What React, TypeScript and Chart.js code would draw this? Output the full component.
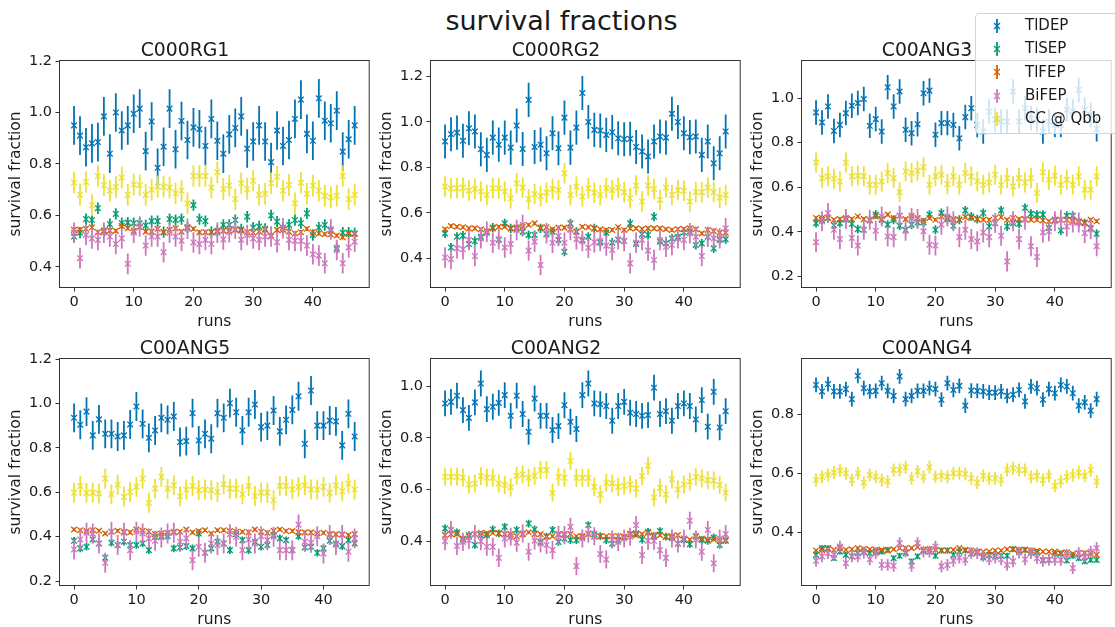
import React, { useEffect, useRef } from "react";
import { Chart, registerables } from "chart.js";
Chart.register(...registerables);

// ---------- data ----------
const SERIES = ["TlDEP", "TlSEP", "TlFEP", "BiFEP", "CC @ Qbb"];
const X_TICKS = [0, 10, 20, 30, 40];

// C000RG1
const rg1_TlDEP = [0.95,0.91,0.865,0.88,0.885,0.985,0.84,1.0,0.93,0.95,0.995,1.015,0.85,0.965,0.785,0.867,1.015,0.857,0.967,0.893,0.942,0.935,0.87,0.975,0.89,0.84,0.915,0.94,0.985,0.86,0.887,0.95,0.887,0.807,0.93,0.87,0.893,0.975,1.05,0.917,0.89,1.055,0.968,0.958,1.007,0.848,0.896,0.95];
const rg1_TlSEP = [0.518,0.533,0.586,0.582,0.628,0.54,0.566,0.606,0.57,0.572,0.57,0.57,0.561,0.578,0.578,0.535,0.586,0.582,0.586,0.553,0.64,0.586,0.578,0.535,0.54,0.563,0.563,0.582,0.546,0.595,0.553,0.557,0.548,0.6,0.576,0.553,0.563,0.582,0.57,0.608,0.524,0.553,0.563,0.541,0.473,0.533,0.533,0.53];
const rg1_TlFEP = [0.544,0.544,0.548,0.554,0.535,0.541,0.541,0.54,0.559,0.55,0.54,0.554,0.537,0.537,0.548,0.535,0.544,0.55,0.537,0.554,0.548,0.535,0.535,0.535,0.537,0.541,0.541,0.544,0.541,0.535,0.533,0.537,0.544,0.522,0.544,0.544,0.537,0.53,0.535,0.548,0.535,0.53,0.527,0.527,0.522,0.515,0.528,0.528];
const rg1_BiFEP = [0.533,0.434,0.524,0.511,0.505,0.533,0.518,0.489,0.511,0.412,0.533,0.557,0.483,0.518,0.518,0.457,0.533,0.518,0.502,0.548,0.495,0.489,0.505,0.489,0.533,0.507,0.535,0.548,0.505,0.524,0.511,0.505,0.518,0.518,0.496,0.55,0.505,0.501,0.501,0.483,0.449,0.444,0.414,0.546,0.466,0.414,0.476,0.498];
const rg1_CC = [0.727,0.68,0.73,0.64,0.753,0.718,0.696,0.71,0.747,0.68,0.72,0.718,0.68,0.7,0.712,0.712,0.708,0.686,0.696,0.647,0.753,0.753,0.753,0.708,0.768,0.703,0.716,0.663,0.725,0.703,0.735,0.68,0.684,0.725,0.75,0.696,0.718,0.647,0.727,0.684,0.716,0.696,0.676,0.67,0.677,0.753,0.663,0.68];
const rg1_err = [0.075, 0.022, 0.008, 0.04, 0.042];

// C000RG2
const rg2_TlDEP = [0.914,0.946,0.953,0.917,0.972,0.958,0.88,0.855,0.931,0.9,0.931,0.887,0.984,0.881,1.097,0.89,0.9,0.862,0.95,0.884,1.019,0.887,0.975,1.127,1.0,0.965,0.962,0.943,0.955,0.928,0.924,0.926,0.89,0.87,0.848,0.914,0.936,0.931,1.036,1.0,0.95,0.933,0.936,0.855,0.914,0.818,0.862,0.958];
const rg2_TlSEP = [0.51,0.448,0.495,0.5,0.463,0.476,0.495,0.513,0.535,0.481,0.554,0.532,0.532,0.517,0.503,0.503,0.532,0.506,0.517,0.481,0.429,0.554,0.517,0.481,0.495,0.532,0.469,0.513,0.469,0.481,0.476,0.554,0.463,0.506,0.503,0.583,0.473,0.466,0.488,0.495,0.514,0.519,0.459,0.466,0.495,0.444,0.481,0.484];
const rg2_TlFEP = [0.528,0.542,0.539,0.537,0.532,0.532,0.528,0.52,0.532,0.539,0.539,0.532,0.535,0.539,0.547,0.554,0.535,0.537,0.528,0.535,0.535,0.528,0.517,0.539,0.537,0.532,0.528,0.525,0.525,0.537,0.525,0.532,0.532,0.529,0.532,0.532,0.532,0.528,0.525,0.529,0.529,0.532,0.528,0.51,0.525,0.52,0.513,0.513];
const rg2_BiFEP = [0.404,0.397,0.444,0.44,0.481,0.41,0.488,0.517,0.469,0.484,0.448,0.463,0.525,0.547,0.434,0.473,0.371,0.51,0.469,0.498,0.469,0.525,0.484,0.476,0.447,0.471,0.476,0.456,0.437,0.484,0.476,0.378,0.469,0.481,0.434,0.393,0.481,0.451,0.459,0.488,0.481,0.51,0.495,0.41,0.495,0.488,0.488,0.532];
const rg2_CC = [0.716,0.708,0.708,0.711,0.698,0.705,0.694,0.679,0.708,0.708,0.694,0.664,0.73,0.711,0.66,0.683,0.674,0.689,0.705,0.7,0.774,0.679,0.716,0.672,0.708,0.689,0.679,0.708,0.7,0.711,0.691,0.664,0.72,0.65,0.72,0.705,0.657,0.711,0.679,0.7,0.697,0.65,0.691,0.691,0.711,0.691,0.667,0.679];
const rg2_err = [0.075, 0.02, 0.008, 0.045, 0.045];

// C00ANG3
const ang3_TlDEP = [0.936,0.891,0.963,0.853,0.88,0.933,0.966,0.978,0.996,0.876,0.906,0.85,1.049,0.963,1.03,0.858,0.843,0.883,1.022,1.034,0.836,0.888,0.888,0.88,0.82,0.915,0.955,0.88,0.85,0.94,0.903,0.895,0.895,1.03,0.895,0.955,0.91,0.903,0.85,0.895,0.88,0.88,0.948,0.94,1.037,0.948,0.925,0.861];
const ang3_TlSEP = [0.439,0.454,0.462,0.429,0.439,0.454,0.436,0.412,0.409,0.454,0.477,0.454,0.432,0.454,0.427,0.409,0.432,0.442,0.442,0.477,0.409,0.484,0.457,0.427,0.454,0.496,0.469,0.457,0.484,0.424,0.439,0.496,0.424,0.439,0.436,0.507,0.481,0.477,0.477,0.417,0.454,0.406,0.472,0.472,0.442,0.439,0.417,0.391];
const ang3_TlFEP = [0.462,0.462,0.462,0.454,0.457,0.462,0.457,0.469,0.457,0.451,0.469,0.457,0.477,0.462,0.472,0.457,0.472,0.462,0.451,0.462,0.454,0.469,0.462,0.457,0.454,0.466,0.462,0.457,0.454,0.454,0.462,0.466,0.454,0.462,0.457,0.457,0.454,0.454,0.451,0.447,0.454,0.454,0.454,0.45,0.447,0.442,0.454,0.447];
const ang3_BiFEP = [0.353,0.447,0.484,0.409,0.367,0.457,0.372,0.338,0.409,0.454,0.405,0.469,0.379,0.376,0.472,0.405,0.462,0.457,0.402,0.342,0.338,0.432,0.469,0.447,0.376,0.409,0.367,0.357,0.397,0.376,0.439,0.382,0.267,0.447,0.367,0.454,0.335,0.287,0.397,0.402,0.447,0.454,0.424,0.442,0.442,0.394,0.412,0.335];
const ang3_CC = [0.711,0.641,0.649,0.638,0.626,0.711,0.649,0.652,0.649,0.611,0.611,0.626,0.664,0.641,0.578,0.671,0.664,0.674,0.69,0.611,0.649,0.656,0.614,0.649,0.611,0.664,0.649,0.626,0.611,0.621,0.656,0.611,0.641,0.604,0.641,0.621,0.641,0.574,0.667,0.634,0.652,0.611,0.634,0.611,0.649,0.589,0.589,0.649];
const ang3_err = [0.055, 0.02, 0.008, 0.045, 0.045];

// C00ANG5 (46 runs)
const ang5_TlDEP = [0.935,0.904,0.963,0.856,0.928,0.863,0.863,0.851,0.856,0.905,0.986,0.908,0.845,0.878,0.935,0.926,0.941,0.826,0.83,0.956,0.833,0.863,0.841,0.956,0.935,1.001,0.96,0.878,0.96,0.995,0.893,0.9,0.968,0.874,0.926,0.971,1.032,0.818,1.058,0.9,0.9,0.923,0.919,0.811,0.953,0.851];
const ang5_TlSEP = [0.381,0.347,0.354,0.387,0.369,0.305,0.372,0.362,0.377,0.362,0.362,0.369,0.339,0.399,0.402,0.402,0.347,0.351,0.357,0.347,0.414,0.327,0.347,0.377,0.369,0.339,0.411,0.384,0.339,0.377,0.354,0.362,0.407,0.392,0.384,0.339,0.402,0.351,0.354,0.327,0.347,0.381,0.369,0.357,0.384,0.369];
const ang5_TlFEP = [0.432,0.429,0.425,0.429,0.426,0.414,0.422,0.426,0.422,0.419,0.432,0.426,0.422,0.411,0.414,0.417,0.422,0.422,0.432,0.419,0.425,0.429,0.414,0.429,0.429,0.425,0.422,0.422,0.419,0.432,0.422,0.417,0.426,0.432,0.425,0.425,0.419,0.419,0.419,0.414,0.417,0.411,0.411,0.41,0.407,0.411];
const ang5_BiFEP = [0.342,0.387,0.417,0.414,0.369,0.282,0.422,0.362,0.417,0.339,0.422,0.414,0.392,0.381,0.396,0.414,0.417,0.377,0.392,0.294,0.354,0.327,0.369,0.362,0.369,0.411,0.399,0.339,0.387,0.369,0.402,0.384,0.399,0.339,0.339,0.339,0.454,0.377,0.372,0.402,0.324,0.407,0.362,0.407,0.332,0.392];
const ang5_CC = [0.598,0.628,0.597,0.598,0.594,0.661,0.591,0.634,0.579,0.601,0.624,0.661,0.552,0.616,0.669,0.616,0.631,0.582,0.612,0.628,0.609,0.612,0.609,0.601,0.636,0.616,0.616,0.591,0.628,0.583,0.598,0.598,0.564,0.628,0.628,0.613,0.624,0.631,0.612,0.612,0.624,0.597,0.631,0.604,0.639,0.612];
const ang5_err = [0.065, 0.017, 0.008, 0.045, 0.045];

// C00ANG2
const ang2_TlDEP = [0.933,0.939,0.963,0.907,0.877,0.937,1.01,0.911,0.92,0.935,0.965,0.885,0.963,0.892,0.823,0.952,0.885,0.885,0.83,0.845,0.926,0.862,0.834,0.965,1.01,0.933,0.93,0.923,0.866,0.923,0.939,0.897,0.892,0.885,0.888,0.994,0.892,0.903,0.866,0.923,0.933,0.923,0.871,0.946,0.843,0.978,0.84,0.903];
const ang2_TlSEP = [0.449,0.443,0.434,0.406,0.423,0.385,0.423,0.423,0.445,0.43,0.455,0.417,0.443,0.427,0.468,0.445,0.397,0.417,0.443,0.397,0.41,0.404,0.404,0.417,0.462,0.427,0.419,0.404,0.39,0.404,0.414,0.427,0.43,0.406,0.436,0.417,0.439,0.417,0.414,0.39,0.404,0.388,0.419,0.404,0.401,0.414,0.385,0.404];
const ang2_TlFEP = [0.423,0.427,0.427,0.41,0.417,0.427,0.432,0.43,0.432,0.43,0.427,0.427,0.419,0.427,0.434,0.427,0.427,0.419,0.419,0.427,0.427,0.427,0.419,0.419,0.427,0.417,0.419,0.419,0.419,0.419,0.417,0.427,0.423,0.427,0.432,0.423,0.423,0.417,0.419,0.423,0.41,0.406,0.417,0.41,0.406,0.406,0.401,0.401];
const ang2_BiFEP = [0.4,0.443,0.381,0.397,0.404,0.427,0.4,0.378,0.378,0.335,0.41,0.417,0.394,0.43,0.359,0.401,0.391,0.385,0.365,0.423,0.423,0.455,0.303,0.41,0.43,0.419,0.35,0.329,0.406,0.397,0.41,0.417,0.462,0.346,0.401,0.401,0.365,0.335,0.41,0.391,0.41,0.479,0.406,0.359,0.443,0.314,0.41,0.427];
const ang2_CC = [0.649,0.649,0.649,0.645,0.619,0.623,0.652,0.645,0.645,0.623,0.617,0.608,0.653,0.658,0.645,0.653,0.675,0.675,0.587,0.649,0.645,0.71,0.645,0.645,0.645,0.61,0.581,0.626,0.623,0.61,0.614,0.619,0.604,0.652,0.692,0.569,0.606,0.581,0.639,0.6,0.619,0.63,0.649,0.643,0.636,0.634,0.617,0.588];
const ang2_err = [0.05, 0.015, 0.006, 0.035, 0.035];

// C00ANG4
const ang4_TlDEP = [0.899,0.877,0.902,0.877,0.877,0.885,0.851,0.93,0.888,0.877,0.879,0.905,0.879,0.862,0.928,0.851,0.862,0.879,0.879,0.888,0.885,0.849,0.905,0.882,0.896,0.829,0.88,0.879,0.877,0.873,0.873,0.877,0.862,0.866,0.882,0.843,0.894,0.888,0.849,0.885,0.871,0.899,0.894,0.871,0.829,0.84,0.812,0.851];
const ang4_TlSEP = [0.323,0.346,0.346,0.312,0.334,0.323,0.318,0.329,0.334,0.329,0.334,0.334,0.34,0.312,0.32,0.329,0.301,0.318,0.338,0.334,0.32,0.338,0.338,0.323,0.334,0.338,0.327,0.331,0.314,0.323,0.32,0.32,0.32,0.342,0.334,0.34,0.331,0.331,0.306,0.306,0.327,0.327,0.304,0.32,0.312,0.301,0.306,0.306];
const ang4_TlFEP = [0.338,0.34,0.343,0.34,0.346,0.34,0.342,0.346,0.343,0.342,0.34,0.34,0.337,0.342,0.346,0.346,0.346,0.349,0.34,0.343,0.34,0.338,0.338,0.34,0.346,0.34,0.338,0.334,0.334,0.334,0.338,0.338,0.342,0.343,0.34,0.34,0.338,0.337,0.334,0.334,0.334,0.331,0.331,0.327,0.329,0.329,0.327,0.323];
const ang4_BiFEP = [0.303,0.318,0.329,0.323,0.351,0.295,0.318,0.318,0.331,0.308,0.329,0.289,0.289,0.286,0.363,0.334,0.286,0.363,0.334,0.334,0.351,0.284,0.289,0.303,0.314,0.306,0.329,0.329,0.32,0.308,0.314,0.308,0.289,0.301,0.331,0.308,0.329,0.312,0.303,0.306,0.306,0.306,0.323,0.278,0.329,0.318,0.334,0.346];
const ang4_CC = [0.577,0.588,0.594,0.602,0.609,0.6,0.577,0.6,0.568,0.594,0.588,0.577,0.572,0.611,0.611,0.62,0.583,0.606,0.588,0.62,0.588,0.591,0.588,0.6,0.6,0.597,0.583,0.568,0.591,0.583,0.583,0.577,0.611,0.617,0.611,0.611,0.588,0.591,0.577,0.591,0.557,0.572,0.588,0.594,0.602,0.591,0.611,0.572];
const ang4_err = [0.025, 0.01, 0.005, 0.02, 0.022];

const PANEL_TITLES = ["C000RG1", "C000RG2", "C00ANG3", "C00ANG5", "C00ANG2", "C00ANG4"];
const PANEL_VALUES = [
  [rg1_TlDEP, rg1_TlSEP, rg1_TlFEP, rg1_BiFEP, rg1_CC],
  [rg2_TlDEP, rg2_TlSEP, rg2_TlFEP, rg2_BiFEP, rg2_CC],
  [ang3_TlDEP, ang3_TlSEP, ang3_TlFEP, ang3_BiFEP, ang3_CC],
  [ang5_TlDEP, ang5_TlSEP, ang5_TlFEP, ang5_BiFEP, ang5_CC],
  [ang2_TlDEP, ang2_TlSEP, ang2_TlFEP, ang2_BiFEP, ang2_CC],
  [ang4_TlDEP, ang4_TlSEP, ang4_TlFEP, ang4_BiFEP, ang4_CC],
];
const PANEL_ERRS = [rg1_err, rg2_err, ang3_err, ang5_err, ang2_err, ang4_err];
const Y_TICKS = [
  [0.4, 0.6, 0.8, 1.0, 1.2],
  [0.4, 0.6, 0.8, 1.0, 1.2],
  [0.2, 0.4, 0.6, 0.8, 1.0],
  [0.2, 0.4, 0.6, 0.8, 1.0, 1.2],
  [0.4, 0.6, 0.8, 1.0],
  [0.4, 0.6, 0.8],
];
const Y_LIMITS = [
  [0.322, 1.2],
  [0.274, 1.268],
  [0.152, 1.167],
  [0.182, 1.2],
  [0.23, 1.105],
  [0.221, 0.987],
];

// ---------- styles / layout ----------
const COLORS = ["#0173b2", "#029e73", "#d55e00", "#cc78bc", "#ece133"];
const FONT = "'DejaVu Sans', sans-serif";
const TEXT = "#1a1a1a";
const PLOT_LEFT = [60, 431, 802];
const PLOT_TOP = [61, 359];
const PLOT_W = 310;
const PLOT_H = 226;
const Y_AXIS_W = 60;
const TITLE_H = 28;
const X_AXIS_H = 44;
const RIGHT_PAD = 4;
const TICK_SIZE = 14.5;
const LABEL_SIZE = 15.5;
const TITLE_SIZE = 18.8;

const errorBarPlugin = {
  id: "errorBars",
  beforeDatasetDraw(chart: any, args: any) {
    const ds = chart.data.datasets[args.index];
    const ys = chart.scales.y;
    const a = chart.chartArea;
    const ctx = chart.ctx;
    ctx.save();
    ctx.beginPath();
    ctx.rect(a.left, a.top, a.right - a.left, a.bottom - a.top);
    ctx.clip();
    ctx.strokeStyle = ds.borderColor;
    ctx.lineWidth = 1.8;
    args.meta.data.forEach((pt: any, i: number) => {
      const v = ds.data[i].y;
      const e = ds.errors[i];
      ctx.beginPath();
      ctx.moveTo(pt.x, ys.getPixelForValue(v - e));
      ctx.lineTo(pt.x, ys.getPixelForValue(v + e));
      ctx.stroke();
    });
    ctx.restore();
  },
};

const framePlugin = {
  id: "frame",
  afterDraw(chart: any) {
    const a = chart.chartArea;
    const ctx = chart.ctx;
    ctx.save();
    ctx.strokeStyle = "#333";
    ctx.lineWidth = 1;
    ctx.strokeRect(a.left - 0.5, a.top - 0.5, a.right - a.left + 1, a.bottom - a.top + 1);
    ctx.restore();
  },
};

function Panel({ idx }: { idx: number }) {
  const ref = useRef<HTMLCanvasElement>(null);
  const col = idx % 3;
  const row = Math.floor(idx / 3);
  const width = Y_AXIS_W + PLOT_W + RIGHT_PAD;
  const height = TITLE_H + PLOT_H + X_AXIS_H;
  const left = PLOT_LEFT[col] - Y_AXIS_W;
  const top = PLOT_TOP[row] - TITLE_H;

  useEffect(() => {
    const values = PANEL_VALUES[idx];
    const n = values[0].length;
    const margin = (n - 1) * 0.05;
    const datasets = values.map((arr, s) => ({
      label: SERIES[s],
      data: arr.map((v, i) => ({ x: i, y: v })),
      errors: arr.map(() => PANEL_ERRS[idx][s]),
      borderColor: COLORS[s],
      backgroundColor: COLORS[s],
      pointStyle: "crossRot",
      pointRadius: 4,
      pointBorderWidth: 1.3,
      showLine: false,
      order: values.length - s,
    }));
    const grid = {
      display: true,
      drawOnChartArea: false,
      drawTicks: true,
      tickLength: 4.5,
      color: "#333",
      lineWidth: 1,
    };
    const chart = new Chart(ref.current!, {
      type: "scatter",
      data: { datasets: datasets as any },
      plugins: [errorBarPlugin, framePlugin],
      options: {
        responsive: false,
        animation: false,
        events: [],
        layout: { padding: { left: 0, right: RIGHT_PAD, top: 0, bottom: 0 } },
        plugins: {
          legend: { display: false },
          tooltip: { enabled: false },
          title: {
            display: true,
            text: PANEL_TITLES[idx],
            color: TEXT,
            font: { family: FONT, size: TITLE_SIZE, weight: "normal", lineHeight: 1 },
            padding: { top: 9.1, bottom: 0.1 },
          },
        },
        scales: {
          x: {
            type: "linear",
            min: -margin,
            max: n - 1 + margin,
            afterBuildTicks: (s: any) => {
              s.ticks = X_TICKS.map((v) => ({ value: v }));
            },
            afterFit: (s: any) => {
              s.height = X_AXIS_H;
              s.paddingLeft = 0;
              s.paddingRight = 0;
            },
            ticks: {
              color: TEXT,
              font: { family: FONT, size: TICK_SIZE },
              padding: 2.5,
              maxRotation: 0,
              autoSkip: false,
              callback: (v: any) => String(v),
            },
            grid,
            border: { display: false },
            title: {
              display: true,
              text: "runs",
              color: TEXT,
              font: { family: FONT, size: LABEL_SIZE },
              padding: { top: 0, bottom: 0 },
            },
          },
          y: {
            type: "linear",
            min: Y_LIMITS[idx][0],
            max: Y_LIMITS[idx][1],
            afterBuildTicks: (s: any) => {
              s.ticks = Y_TICKS[idx].map((v) => ({ value: v }));
            },
            afterFit: (s: any) => {
              s.width = Y_AXIS_W;
              s.paddingTop = 0;
              s.paddingBottom = 0;
            },
            ticks: {
              color: TEXT,
              font: { family: FONT, size: TICK_SIZE },
              padding: 3.4,
              autoSkip: false,
              callback: (v: any) => Number(v).toFixed(1),
            },
            grid,
            border: { display: false },
            title: {
              display: true,
              text: "survival fraction",
              color: TEXT,
              font: { family: FONT, size: LABEL_SIZE },
              padding: { top: 6.2, bottom: 0 },
            },
          },
        },
      } as any,
    });
    return () => chart.destroy();
  }, [idx]);

  return (
    <canvas
      ref={ref}
      width={width}
      height={height}
      style={{ position: "absolute", left, top, width, height }}
    />
  );
}

function LegendMarker({ color }: { color: string }) {
  return (
    <svg width={14} height={18} style={{ display: "block" }}>
      <line x1={7} y1={2} x2={7} y2={16} stroke={color} strokeWidth={1.8} />
      <line x1={4} y1={6} x2={10} y2={12} stroke={color} strokeWidth={1.3} />
      <line x1={10} y1={6} x2={4} y2={12} stroke={color} strokeWidth={1.3} />
    </svg>
  );
}

export default function App() {
  return (
    <div
      style={{
        position: "absolute",
        left: 0,
        top: 0,
        width: 1115,
        height: 627,
        overflow: "hidden",
        background: "#fff",
        fontFamily: FONT,
      }}
    >
      <div
        style={{
          position: "absolute",
          left: 0,
          width: 1123,
          top: 7,
          textAlign: "center",
          fontSize: 27,
          lineHeight: "27px",
          color: TEXT,
        }}
      >
        survival fractions
      </div>
      {PANEL_TITLES.map((_, i) => (
        <Panel key={i} idx={i} />
      ))}
      <div
        style={{
          position: "absolute",
          left: 975,
          top: 13,
          width: 160,
          height: 121,
          border: "1px solid #d4d4d4",
          borderRadius: 4,
          background: "rgba(255,255,255,0.8)",
          zIndex: 5,
          boxSizing: "border-box",
        }}
      >
        {SERIES.map((name, s) => (
          <div
            key={name}
            style={{
              position: "absolute",
              left: 0,
              top: s * 23.3,
              height: 23.3,
              width: 160,
              display: "flex",
              alignItems: "center",
            }}
          >
            <div style={{ position: "absolute", left: 14 }}>
              <LegendMarker color={COLORS[s]} />
            </div>
            <div
              style={{
                position: "absolute",
                left: 49,
                fontSize: 15,
                lineHeight: "23.3px",
                color: TEXT,
                whiteSpace: "nowrap",
              }}
            >
              {name}
            </div>
          </div>
        ))}
      </div>
    </div>
  );
}
